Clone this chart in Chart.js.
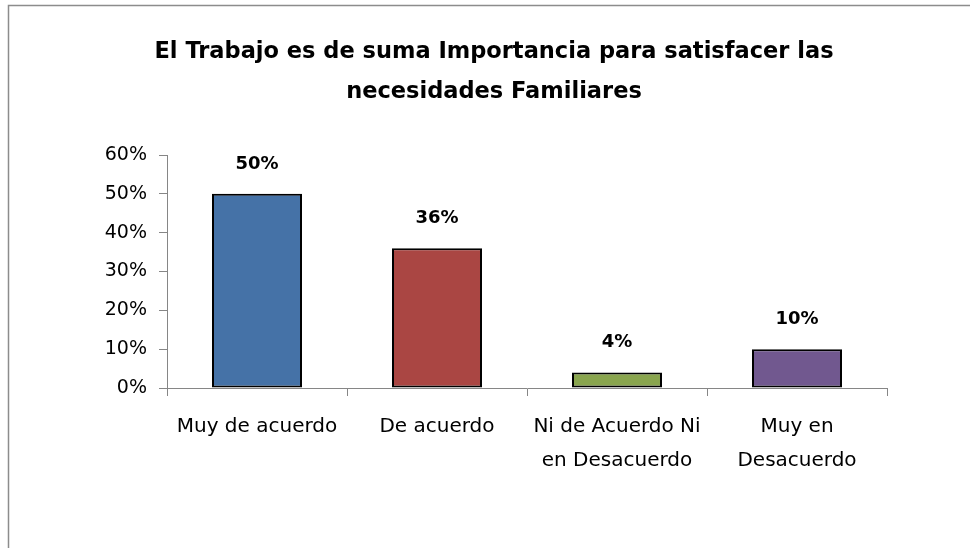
<!DOCTYPE html>
<html>
<head>
<meta charset="utf-8">
<script src="https://cdn.jsdelivr.net/npm/chart.js@4"></script>
<style>
  html, body { margin: 0; padding: 0; background: #fff; }
  #wrap { width: 970px; height: 548px; }
</style>
</head>
<body>
<div id="wrap"><canvas id="myChart" width="970" height="548"></canvas></div>
<script>
const categories = [['Muy de acuerdo'], ['De acuerdo'], ['Ni de Acuerdo Ni', 'en Desacuerdo'], ['Muy en', 'Desacuerdo']];
const percentValues = [0.50, 0.36, 0.04, 0.10];
const barColors = ['#4572A7', '#AA4643', '#89A54E', '#71588F'];
const yTicks = [0, 0.1, 0.2, 0.3, 0.4, 0.5, 0.6];
const titleLines = ['El Trabajo es de suma Importancia para satisfacer las', 'necesidades Familiares'];

const axisGray = '#868686';

// outer chart frame, like the spreadsheet chart box
const framePlugin = {
  id: 'frame',
  beforeDraw(chart) {
    const c = chart.ctx;
    c.save();
    c.strokeStyle = '#8c8c8c';
    c.lineWidth = 1.5;
    c.strokeRect(8.5, 5.5, 1200, 1200);
    c.restore();
  }
};

// value labels above each bar
const valueLabels = {
  id: 'valueLabels',
  afterDatasetsDraw(chart) {
    const c = chart.ctx;
    const meta = chart.getDatasetMeta(0);
    c.save();
    c.font = 'bold 18px "DejaVu Sans"';
    c.fillStyle = '#000';
    c.textAlign = 'center';
    c.textBaseline = 'middle';
    meta.data.forEach((bar, i) => {
      c.fillText(Math.round(percentValues[i] * 100) + '%', bar.x, bar.y - 30);
    });
    c.restore();
  }
};

new Chart(document.getElementById('myChart'), {
  type: 'bar',
  data: {
    labels: categories,
    datasets: [{
      data: percentValues,
      backgroundColor: barColors,
      borderColor: '#000',
      borderWidth: 2,
      borderSkipped: false,
      categoryPercentage: 1,
      barPercentage: 0.5
    }]
  },
  options: {
    responsive: false,
    animation: false,
    layout: { padding: { left: 18, right: 0, top: 0, bottom: 0 } },
    plugins: {
      legend: { display: false },
      tooltip: { enabled: false },
      title: {
        display: true,
        text: titleLines,
        color: '#000',
        font: { family: '"DejaVu Sans"', size: 22.5, weight: 'bold', lineHeight: 40 / 22.5 },
        padding: { top: 32, bottom: 43 }
      }
    },
    scales: {
      y: {
        min: 0,
        max: 0.6,
        afterFit(scale) { scale.width = 149; },
        afterBuildTicks(scale) { scale.ticks = yTicks.map(v => ({ value: v })); },
        ticks: {
          color: '#000',
          padding: 12,
          font: { family: '"DejaVu Sans"', size: 19 },
          callback: v => Math.round(v * 100) + '%'
        },
        grid: { drawOnChartArea: false, drawTicks: true, tickLength: 8, color: axisGray, lineWidth: 1 },
        border: { color: axisGray, width: 1 }
      },
      // empty right-hand spacer so the plot ends where the original does
      spacer: {
        type: 'linear',
        position: 'right',
        afterFit(scale) { scale.width = 83; },
        ticks: { display: false },
        grid: { display: false },
        border: { display: false }
      },
      x: {
        afterFit(scale) { scale.height = 160; },
        ticks: {
          color: '#000',
          padding: 14,
          maxRotation: 0,
          autoSkip: false,
          font: { family: '"DejaVu Sans"', size: 20, lineHeight: 34 / 20 }
        },
        grid: { offset: true, drawOnChartArea: false, drawTicks: true, tickLength: 8, color: axisGray, lineWidth: 1 },
        border: { color: axisGray, width: 1 }
      }
    }
  },
  plugins: [framePlugin, valueLabels]
});
</script>
</body>
</html>
